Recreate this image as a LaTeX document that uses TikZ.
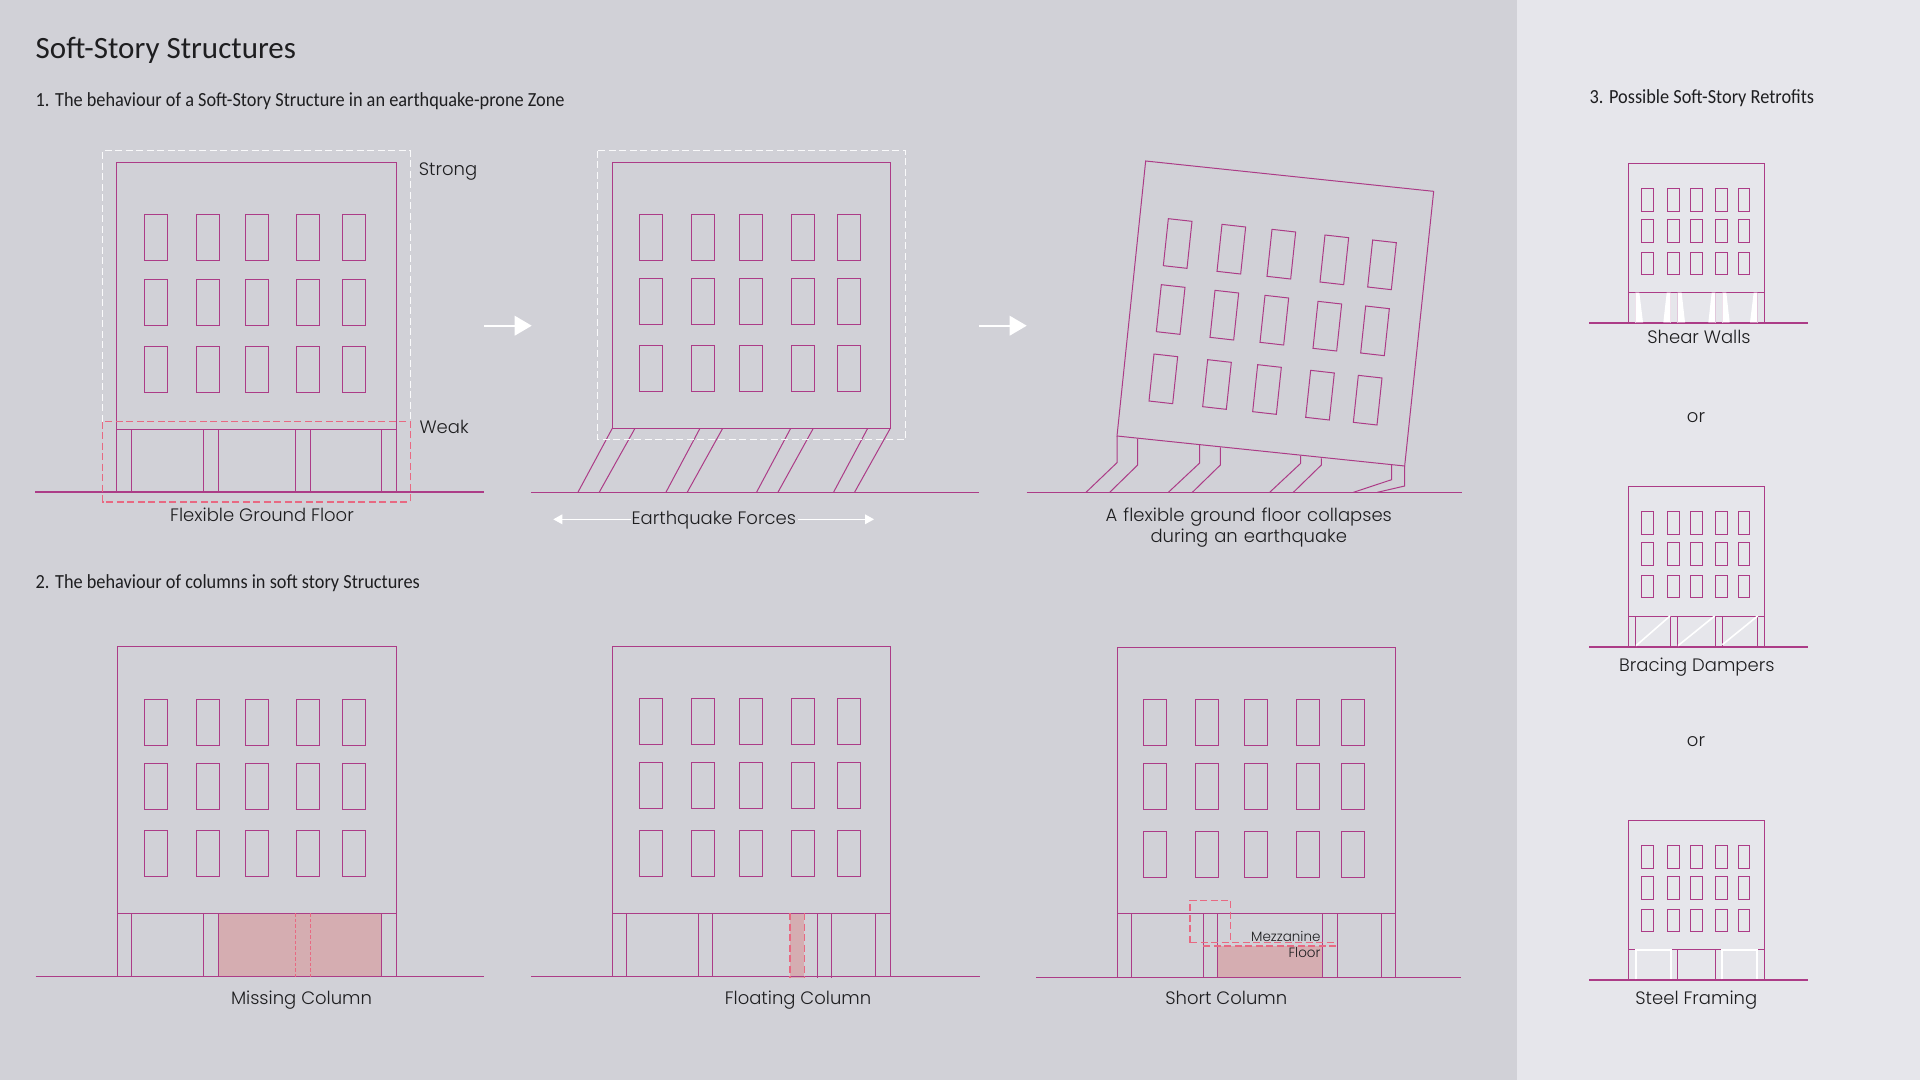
\documentclass[tikz,border=0pt]{standalone}
\usepackage{fontspec}
\setmainfont{Poppins Light}
\newfontfamily\headfont{Carlito}
\newfontfamily\subheadfont[FakeStretch=0.915]{Carlito}
\definecolor{bgmain}{RGB}{209,209,215}
\definecolor{bgpanel}{RGB}{230,230,235}
\definecolor{mag}{RGB}{172,60,135}
\definecolor{redd}{RGB}{232,105,130}
\definecolor{redfill}{RGB}{213,173,177}
\definecolor{txt}{RGB}{30,30,32}
\tikzset{
 bline/.style={draw=mag,line width=1pt,line join=miter},
 gline/.style={draw=mag,line width=1.4pt},
 wdash/.style={draw=white!90!bgmain,line width=1.2pt,dash pattern=on 7pt off 3.5pt},
 rdash/.style={draw=redd,line width=1.2pt,dash pattern=on 7pt off 3.5pt},
 wline/.style={draw=white,line width=1.6pt,line cap=butt},
 captxt/.style={font=\fontsize{18}{21}\selectfont,text=txt,inner sep=0pt,align=center},
 smallcap/.style={font=\fontsize{13.5}{16}\selectfont,text=txt,inner sep=0pt,anchor=east},
 head/.style={font=\subheadfont\fontsize{20}{24}\selectfont,text=txt,inner sep=0pt,anchor=base west},
 titlehead/.style={font=\headfont\fontsize{31}{36}\selectfont,text=txt,inner sep=0pt,anchor=base west},
}
% x0,y0,xlist,ylist,w,h
\newcommand{\winset}[6]{\foreach \wx in {#3} \foreach \wy in {#4} \draw[bline] ({#1+\wx},{#2+\wy}) rectangle +(#5,#6);}
\newcommand{\bigarrow}[3]{\draw[draw=white,line width=2pt] (#1,#3) -- (#2-17,#3); \fill[white] (#2,#3) -- (#2-17,#3-10) -- (#2-17,#3+10) -- cycle;}
\begin{document}
\begin{tikzpicture}[x=1pt,y=-1pt]
\useasboundingbox (0,0) rectangle (1920,1080);
\fill[bgmain] (0,0) rectangle (1517,1080);
\fill[bgpanel] (1517,0) rectangle (1920,1080);
% headings
\node[titlehead] (title) at (35.5,58.5) {Soft-Story Structures};
\node[head] (h1) at (35.5,106) {1. The behaviour of a Soft-Story Structure in an earthquake-prone Zone};
\node[head] (h2) at (35.5,588) {2. The behaviour of columns in soft story Structures};
\node[head] (h3) at (1589.5,103) {3. Possible Soft-Story Retrofits};
% --- Building 1
\draw[bline] (116.7,429) -- (116.7,162) -- (396.7,162) -- (396.7,429) -- cycle;
\winset{116.7}{162}{27.6,79.6,128.3,180,226}{52.7,117,184.3}{23}{46}
\foreach \cx in {0,86.6,179,265} \draw[bline] ({116.7+\cx},429) -- ({116.7+\cx},491) ({116.7+\cx+14.7},429) -- ({116.7+\cx+14.7},491);
\draw[gline,line width=2pt] (35,491.7) -- (484,491.7);
\draw[wdash] (102.7,421.7) -- (102.7,150.7) -- (410.3,150.7) -- (410.3,421.7);
\draw[rdash] (102.7,421.7) rectangle (410.3,502);
\node[captxt,anchor=west] (strong) at (418.7,171.5) {Strong};
\node[captxt,anchor=west] (weak) at (419.3,426.7) {Weak};
\node[captxt] (flex) at (262,515.3) {Flexible Ground Floor};
% arrows
\bigarrow{484}{531.7}{325.7}
\bigarrow{979.3}{1026.7}{325.7}
% --- Building 2
\draw[bline] (612.3,428.3) rectangle (890.3,162.7);
\winset{612.3}{162.7}{27,79,127.4,179,224.7}{52,116,183}{23}{46}
\foreach \ta/\ba in {612.3/577.7,635/599,700/665.7,722.7/687,790.7/756.3,813.3/777.7,867.7/833.3,890.3/854.3} \draw[bline] (\ta,428.3) -- (\ba,492.7);
\draw[gline] (531.3,492.7) -- (979.3,492.7);
\draw[wdash] (597.7,150.7) rectangle (905.7,439.7);
\node[captxt] (eqf) at (713.8,520) {Earthquake Forces};
\coordinate (eqL) at (553.3,519.3);
\coordinate (eqR) at (874,519.3);
\draw[draw=white,line width=1.1pt] (562,519.3) -- (630.7,519.3) (798.3,519.3) -- (865,519.3);
\fill[white] (eqL) -- ++(9,-5) -- ++(0,10) -- cycle;
\fill[white] (eqR) -- ++(-9,-5) -- ++(0,10) -- cycle;
% --- Building 3
\begin{scope}[shift={(1020,140)},x=0.33333pt,y=-0.33333pt]
\draw[bline] (377,63) -- (1241,154) -- (1154,978) -- (291,888) -- cycle;
\foreach \wx/\wy in {445/236,606/253,756/268,915/285,1058/300,424/434,585/451,735/466,894/484,1037/498,402/642,563/659,713/674,872/691,1015/706}
  \draw[bline] (\wx,\wy) -- ++(71,8) -- ++(-15,141) -- ++(-71,-8) -- cycle;
\draw[bline] (291,888) -- (291,968) -- (198,1057);
\draw[bline] (353,896) -- (353,975) -- (269,1057);
\draw[bline] (539,915) -- (539,969) -- (445,1057);
\draw[bline] (601,922) -- (601,975) -- (517,1057);
\draw[bline] (842,947) -- (842,970) -- (749,1057);
\draw[bline] (904,955) -- (904,975) -- (820,1057);
\draw[bline] (1115,975) -- (1115,1019) -- (1000,1057);
\draw[bline] (1154,978) -- (1154,1038) -- (1072,1057);
\draw[gline] (20,1057) -- (1325,1057);
\end{scope}
\node[captxt,text width=400pt] (coll) at (1248.8,528) {A flexible ground floor collapses\\during an earthquake};
% --- Missing column
\fill[redfill] (218.7,913.3) rectangle (381.7,976.7);
\draw[bline] (117.3,913.3) -- (117.3,646.3) -- (396,646.3) -- (396,913.3) -- cycle;
\winset{116.7}{646.3}{27.6,79.6,128.3,180,226}{52.7,117,184.3}{23}{46}
\foreach \cl/\cr in {117.3/131.7,203.3/218,381.7/396} \draw[bline] (\cl,913.3) -- (\cl,976.7) (\cr,913.3) -- (\cr,976.7);
\draw[gline] (35.5,976.7) -- (484,976.7);
\draw[rdash,dash pattern=on 3.5pt off 2pt,line width=1pt] (295.7,913.3) -- (295.7,976.7) (310.3,913.3) -- (310.3,976.7);
\node[captxt] (miss) at (301.5,1000) {Missing Column};
% --- Floating column
\fill[redfill] (790,913) rectangle (804.3,977.5);
\draw[bline] (612,913) -- (612,646.3) -- (890.3,646.3) -- (890.3,913) -- cycle;
\winset{612.3}{646.3}{27,79,127.4,179,224.7}{52.4,116.5,183.7}{23}{46}
\foreach \cl/\cr in {612/626.3,698/712.7,875.7/890.3} \draw[bline] (\cl,913) -- (\cl,976.7) (\cr,913) -- (\cr,976.7);
\draw[bline] (817.3,913) -- (817.3,978) (831.7,913) -- (831.7,978);
\draw[gline] (531.4,976.7) -- (979.6,976.7);
\draw[rdash] (790,913) -- (790,977.5) (804.3,913) -- (804.3,977.5);
\node[captxt] (floatc) at (798,1000) {Floating Column};
% --- Short column
\fill[redfill] (1217.7,946) rectangle (1322.7,977.7);
\draw[bline] (1117,913.7) -- (1117,647.8) -- (1395.3,647.8) -- (1395.3,913.7) -- cycle;
\winset{1117}{647.8}{26.7,78.7,127.4,179,224.7}{52,116,183.2}{23}{46}
\foreach \cl/\cr in {1117/1131.7,1203.3/1217.7,1322.7/1337,1381/1395.3} \draw[bline] (\cl,913.7) -- (\cl,977.7) (\cr,913.7) -- (\cr,977.7);
\draw[gline] (1036,977.7) -- (1460.5,977.7);
\draw[rdash] (1190,942.7) -- (1190,900.3) -- (1230.7,900.3) -- (1230.7,942.7);
\draw[rdash] (1190,942.7) -- (1337,942.7);
\draw[rdash] (1203.3,946) -- (1337,946);
\node[smallcap] (mez) at (1320.7,936) {Mezzanine};
\node[smallcap] (flr) at (1320.7,953) {Floor};
\node[captxt] (shortc) at (1226.3,998) {Short Column};
% --- Retrofit buildings
\foreach \ty/\fy/\gy in {163/292.3/323,486/616/646.7,820/949.7/980}{
  \draw[bline] (1628.7,\fy) -- (1628.7,\ty) -- (1764.3,\ty) -- (1764.3,\fy) -- cycle;
  \winset{1628.7}{\ty}{13,38.6,61.6,86.6,109.3}{25.3,56.3,89}{11.7}{22.7}
  \draw[gline,line width=2pt] (1589.3,\gy) -- (1807.7,\gy);
  \draw[bline] (1628.7,\fy) -- (1628.7,\gy) (1764.3,\fy) -- (1764.3,\gy);
}
% Shear walls
\begin{scope}[shift={(1580,280)},x=0.33333pt,y=-0.33333pt]
\draw[draw=mag!35!bgpanel,line width=1.2pt] (272,38) -- (272,129) (293,38) -- (293,129) (406,38) -- (406,129) (427,38) -- (427,129) (532,38) -- (532,129) (166,38) -- (166,129);
\fill[white] (166,38) -- (178,38) -- (189,127) -- (166,127) -- cycle;
\fill[white] (260,38) -- (272,38) -- (272,127) -- (250,127) -- cycle;
\fill[white] (293,38) -- (305,38) -- (315,127) -- (293,127) -- cycle;
\fill[white] (395,38) -- (406,38) -- (406,127) -- (385,127) -- cycle;
\fill[white] (427,38) -- (439,38) -- (449,127) -- (427,127) -- cycle;
\fill[white] (521,38) -- (532,38) -- (532,127) -- (510,127) -- cycle;
\end{scope}
\node[captxt] (shear) at (1699,336.7) {Shear Walls};
\node[captxt] (or1) at (1696,418) {or};
% Bracing
\begin{scope}[shift={(1580,600)},x=0.33333pt,y=-0.33333pt]
\draw[bline] (167,48) -- (167,139) (271,48) -- (271,139) (292,48) -- (292,139) (407,48) -- (407,139) (427,48) -- (427,139) (532,48) -- (532,139);
\draw[wline] (168,137) -- (270,48) (294,137) -- (404,48) (427,134) -- (533,48);
\end{scope}
\node[captxt] (brace) at (1696.8,667) {Bracing Dampers};
\node[captxt] (or2) at (1696,741.6) {or};
% Steel
\begin{scope}[shift={(1580,930)},x=0.33333pt,y=-0.33333pt]
\draw[bline] (292,59) -- (292,148) (407,59) -- (407,148);
\draw[wline,line width=2pt] (167,148) -- (167,59) -- (272,59) -- (272,148) (427,148) -- (427,59) -- (532,59) -- (532,148);
\end{scope}
\node[captxt] (steel) at (1696.3,1000.3) {Steel Framing};
\end{tikzpicture}
\end{document}
